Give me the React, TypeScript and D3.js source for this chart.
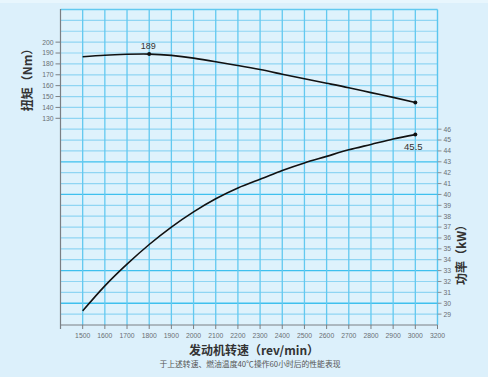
import React from 'react';
import * as d3 from 'd3';

const rpm = [1500, 1600, 1700, 1800, 1900, 2000, 2100, 2200, 2300, 2400, 2500, 2600, 2700, 2800, 2900, 3000];
const torque = [186.5, 188, 188.8, 189, 187.8, 185.3, 182, 178.5, 174.8, 170.5, 166.3, 162.2, 158.1, 153.6, 149.2, 144.5];
const power = [29.3, 31.6, 33.6, 35.4, 37.0, 38.4, 39.6, 40.6, 41.4, 42.2, 42.9, 43.5, 44.1, 44.6, 45.1, 45.5];
const xTickLabels = ['1500', '1600', '1700', '1800', '1900', '2000', '2100', '2200', '2300', '2400', '2500', '2600', '2700', '2800', '2900', '3000', '3200'];
const torqueTicks = [130, 140, 150, 160, 170, 180, 190, 200];
const powerTicks = [29, 30, 31, 32, 33, 34, 35, 36, 37, 38, 39, 40, 41, 42, 43, 44, 45, 46];
const brightPower = [30, 33, 40, 43];
const peakTorque = { rpm: 1800, value: 189, label: '189' };
const endPower = { rpm: 3000, value: 45.5, label: '45.5' };

const W = 488;
const H = 377;
const L = 60.5;
const R = 437.5;
const T = 9.5;
const B = 325;

export default function App() {
  const x = d3.scaleLinear().domain([1400, 3100]).range([L, R]);
  const yP = d3.scaleLinear().domain([28, 57]).range([B, T]);
  const yT = d3.scaleLinear().domain([-60, 230]).range([B, T]);

  const tData = rpm.map((r, i) => [r, torque[i]] as [number, number]);
  const pData = rpm.map((r, i) => [r, power[i]] as [number, number]);
  const lineT = d3.line<[number, number]>().x(d => x(d[0])).y(d => yT(d[1])).curve(d3.curveNatural);
  const lineP = d3.line<[number, number]>().x(d => x(d[0])).y(d => yP(d[1])).curve(d3.curveNatural);

  const hGrid = d3.range(29, 57);
  const vGrid = rpm;
  const sans = "'Liberation Sans', Arial, sans-serif";
  const cjk = "'Noto Sans CJK SC', 'Noto Sans', sans-serif";

  return (
    <svg width={W} height={H} style={{ position: 'absolute', left: 0, top: 0 }} fontFamily={sans}>
      <rect x={0} y={0} width={W} height={H} fill="#dcf0fb" />
      <rect x={0} y={0} width={W} height={3} fill="#e8f6fd" />
      <rect x={L} y={T} width={R - L} height={B - T} fill="#def2fc" />
      {hGrid.map(p => (
        <line key={'h' + p} x1={L} x2={R} y1={yP(p)} y2={yP(p)}
          stroke={brightPower.includes(p) ? '#3ec0ee' : '#8fd5f3'} strokeWidth={brightPower.includes(p) ? 1.3 : 1.2} />
      ))}
      {vGrid.map(r => (
        <line key={'v' + r} x1={x(r)} x2={x(r)} y1={T} y2={B} stroke="#62c9f0" strokeWidth={1.3} />
      ))}
      <line x1={L} x2={R} y1={T} y2={T} stroke="#62c9f0" strokeWidth={1.3} />
      <line x1={R} x2={R} y1={T} y2={B} stroke="#5ac6ef" strokeWidth={1.4} />
      <line x1={L} x2={L} y1={T - 0.5} y2={B + 4} stroke="#7a7f84" strokeWidth={1.2} />
      <line x1={L} x2={R} y1={B} y2={B} stroke="#7a7f84" strokeWidth={1.2} />
      {xTickLabels.map((lab, i) => {
        const xx = x(1500 + i * 100);
        return (
          <g key={'xt' + lab}>
            <line x1={xx} x2={xx} y1={B} y2={B + 4} stroke="#7a7f84" strokeWidth={1} />
            <text x={xx} y={337.5} fontSize={6.8} fill="#6a6f74" textAnchor="middle">{lab}</text>
          </g>
        );
      })}
      {torqueTicks.map(t => (
        <g key={'tt' + t}>
          <line x1={L - 5} x2={L} y1={yT(t)} y2={yT(t)} stroke="#7a7f84" strokeWidth={1} />
          <text x={L - 7} y={yT(t) + 2.4} fontSize={6.8} fill="#6a6f74" textAnchor="end">{t}</text>
        </g>
      ))}
      {powerTicks.map(p => (
        <g key={'pt' + p}>
          <line x1={R} x2={R + 4} y1={yP(p)} y2={yP(p)} stroke="#8a8f94" strokeWidth={1} />
          <text x={R + 6} y={yP(p) + 2.4} fontSize={6.8} fill="#6a6f74" textAnchor="start">{p}</text>
        </g>
      ))}
      <path d={lineT(tData) || ''} fill="none" stroke="#111" strokeWidth={1.6} />
      <path d={lineP(pData) || ''} fill="none" stroke="#111" strokeWidth={1.6} />
      <circle cx={x(peakTorque.rpm)} cy={yT(peakTorque.value)} r={2} fill="#111" />
      <circle cx={x(rpm[rpm.length - 1])} cy={yT(torque[torque.length - 1])} r={2} fill="#111" />
      <circle cx={x(endPower.rpm)} cy={yP(endPower.value)} r={2} fill="#111" />
      <text x={x(peakTorque.rpm) - 1} y={yT(peakTorque.value) - 5} fontSize={9} fill="#333" textAnchor="middle">{peakTorque.label}</text>
      <text x={x(endPower.rpm) - 2} y={yP(endPower.value) + 15.5} fontSize={9.5} fill="#333" textAnchor="middle">{endPower.label}</text>
      <text transform={`translate(32,77) rotate(-90)`} fontSize={12} fontWeight="bold" fill="#333" textAnchor="middle" fontFamily={cjk}>扭矩（Nm）</text>
      <text transform={`translate(466,252) rotate(-90)`} fontSize={12} fontWeight="bold" fill="#333" textAnchor="middle" fontFamily={cjk}>功率（kW）</text>
      <text x={254} y={355} fontSize={12} fontWeight="bold" fill="#333" textAnchor="middle" fontFamily={cjk}>发动机转速（rev/min）</text>
      <text x={250} y={367} fontSize={7.8} fill="#555" textAnchor="middle" fontFamily={cjk}>于上述转速、燃油温度40℃操作60小时后的性能表现</text>
    </svg>
  );
}
